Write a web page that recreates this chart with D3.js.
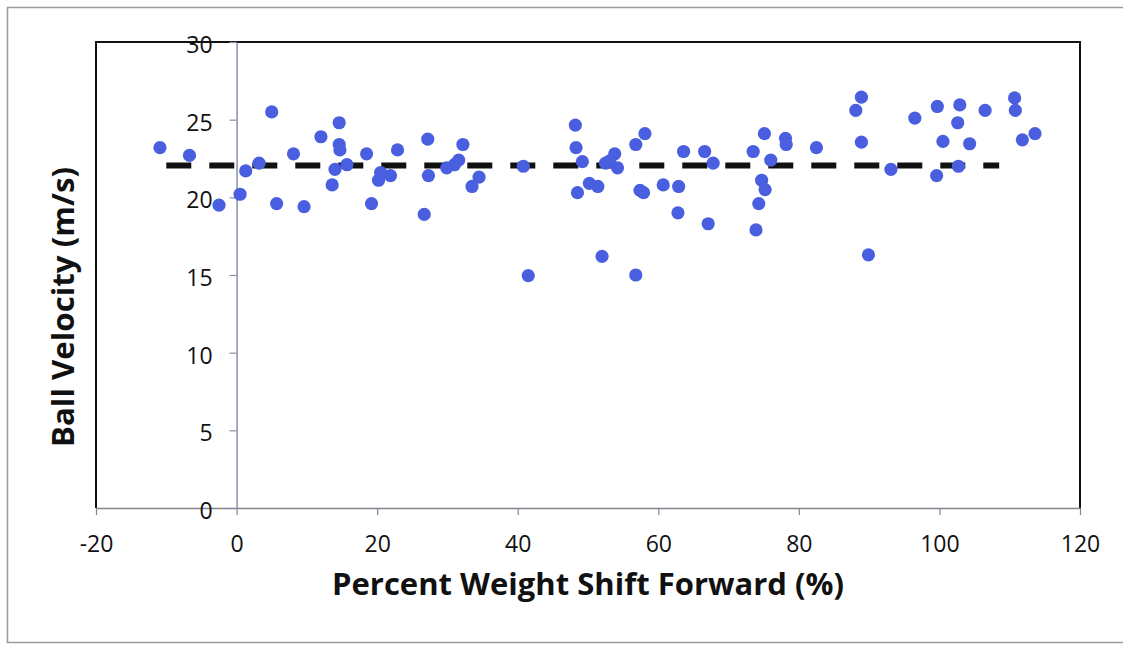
<!DOCTYPE html>
<html>
<head>
<meta charset="utf-8">
<script src="https://cdn.jsdelivr.net/npm/d3@7"></script>
<style>
  html, body { margin: 0; padding: 0; background: #fff; overflow: hidden; }
  svg { display: block; }
  .tick text { font-family: "Open Sans", sans-serif; fill: #111; }
  .title { font-family: "Open Sans", sans-serif; font-weight: 700; fill: #111; }
</style>
</head>
<body>
<div class="chart"></div>
<script>
'use strict';

// Percent weight shift forward (%) for each swing
const weightShift = [
    -10.9, -6.7, -2.5, 0.5, 1.3, 3.2, 5.0, 5.7, 8.1, 9.6,
    12.0, 13.6, 14.0, 14.6, 14.6, 14.7, 15.7, 18.5, 19.2, 20.5,
    20.2, 21.9, 22.9, 27.2, 27.3, 26.7, 29.9, 31.0, 31.6, 32.2,
    34.5, 33.5, 40.8, 41.5, 48.2, 48.3, 49.2, 48.5, 50.2, 51.4,
    52.0, 52.5, 53.1, 53.8, 54.2, 56.8, 58.1, 57.4, 57.9, 56.8,
    60.7, 62.9, 62.8, 63.6, 66.6, 67.8, 67.1, 73.5, 75.1, 76.0,
    78.1, 78.2, 74.7, 75.2, 74.3, 73.9, 82.5, 88.9, 88.1, 88.9,
    89.9, 93.1, 96.5, 99.7, 99.6, 100.5, 102.9, 102.6, 102.7, 104.3,
    106.5, 110.7, 110.8, 111.8, 113.6
];

// Ball velocity (m/s), same order as weightShift
const ballVelocity = [
    23.2, 22.7, 19.5, 20.2, 21.7, 22.2, 25.5, 19.6, 22.8, 19.4,
    23.9, 20.8, 21.8, 24.8, 23.4, 23.05, 22.1, 22.8, 19.6, 21.6,
    21.1, 21.4, 23.05, 23.75, 21.4, 18.9, 21.9, 22.1, 22.4, 23.4,
    21.3, 20.7, 22.0, 14.96, 24.65, 23.2, 22.3, 20.3, 20.9, 20.7,
    16.2, 22.2, 22.35, 22.8, 21.9, 23.4, 24.1, 20.45, 20.3, 15.0,
    20.8, 20.7, 19.0, 22.95, 22.95, 22.2, 18.3, 22.95, 24.1, 22.4,
    23.8, 23.4, 21.1, 20.5, 19.6, 17.9, 23.2, 26.45, 25.6, 23.55,
    16.3, 21.8, 25.1, 25.85, 21.4, 23.6, 25.95, 24.8, 22.0, 23.45,
    25.6, 26.4, 25.6, 23.7, 24.1
];

// mean velocity line (dashed) and the x span it covers
const meanVelocity = 22.05;
const meanSpan = [-10, 108.5];

const xTicks = [-20, 0, 20, 40, 60, 80, 100, 120];
const yTicks = [0, 5, 10, 15, 20, 25, 30];

const W = 1123, H = 645;
const plot = {left: 96, right: 1080, top: 42, bottom: 508};

const xScale = d3.scaleLinear()
    .domain([-20, 120])
    .range([plot.left, plot.right]);

const yScale = d3.scaleLinear()
    .domain([0, 30])
    .range([plot.bottom, plot.top]);

const points = weightShift.map((x, i) => ({x, y: ballVelocity[i]}));

// plain hyphen for negatives, like the original
const plainFormat = d => String(d);

function drawFrame(svg) {
    // faint outer border of the figure
    svg.append('path')
        .attr('d', `M${W + 5},7.5 H7.5 V642.5 H${W + 5}`)
        .attr('fill', 'none')
        .attr('stroke', '#9a9aa2')
        .attr('stroke-width', 1.5);

    // plot box: left, top, right in black
    svg.append('path')
        .attr('d', `M${plot.left},${plot.bottom} V${plot.top} H${plot.right} V${plot.bottom}`)
        .attr('fill', 'none')
        .attr('stroke', '#111')
        .attr('stroke-width', 2);
}

function drawXAxis(svg) {
    const axis = svg.append('g')
        .attr('class', 'axis axis--x')
        .attr('transform', `translate(0,${yScale(0)})`)
        .call(d3.axisBottom(xScale)
            .tickValues(xTicks)
            .tickFormat(plainFormat)
            .tickSize(7)
            .tickPadding(21)
            .tickSizeOuter(0));

    axis.select('.domain').attr('stroke', '#85858f').attr('stroke-width', 1.5);
    axis.selectAll('.tick line').attr('stroke', '#85858f').attr('stroke-width', 1.2);
    axis.selectAll('.tick text').attr('font-size', 23);
}

function drawYAxis(svg) {
    const axis = svg.append('g')
        .attr('class', 'axis axis--y')
        .attr('transform', `translate(${xScale(0)},0)`)
        .call(d3.axisLeft(yScale)
            .tickValues(yTicks)
            .tickFormat(plainFormat)
            .tickSize(7)
            .tickPadding(17)
            .tickSizeOuter(0));

    axis.select('.domain').attr('stroke', '#8a8fa6').attr('stroke-width', 1.5);
    axis.selectAll('.tick line').attr('stroke', '#8a8fa6').attr('stroke-width', 1.2);
    axis.selectAll('.tick text')
        .attr('font-size', 23)
        .attr('dy', '0.45em');
}

function drawMeanLine(svg) {
    svg.append('line')
        .attr('class', 'mean')
        .attr('x1', xScale(meanSpan[0]))
        .attr('x2', xScale(meanSpan[1]))
        .attr('y1', yScale(meanVelocity))
        .attr('y2', yScale(meanVelocity))
        .attr('stroke', '#111')
        .attr('stroke-width', 6)
        .attr('stroke-dasharray', '25,18');
}

function drawPoints(svg) {
    svg.append('g')
        .attr('class', 'points')
        .selectAll('circle')
        .data(points)
        .join('circle')
        .attr('cx', d => xScale(d.x))
        .attr('cy', d => yScale(d.y))
        .attr('r', 6.6)
        .attr('fill', '#4a5fe0');
}

function drawTitles(svg) {
    svg.append('text')
        .attr('class', 'title')
        .attr('x', (plot.left + plot.right) / 2)
        .attr('y', 595)
        .attr('text-anchor', 'middle')
        .attr('font-size', 31)
        .attr('textLength', 512)
        .attr('lengthAdjust', 'spacingAndGlyphs')
        .text('Percent Weight Shift Forward (%)');

    svg.append('text')
        .attr('class', 'title')
        .attr('transform', 'translate(74,307) rotate(-90)')
        .attr('text-anchor', 'middle')
        .attr('font-size', 31)
        .attr('textLength', 280)
        .attr('lengthAdjust', 'spacingAndGlyphs')
        .text('Ball Velocity (m/s)');
}

function run() {
    const svg = d3.select('.chart').append('svg')
        .attr('width', W)
        .attr('height', H);

    drawFrame(svg);
    drawXAxis(svg);
    drawYAxis(svg);
    drawMeanLine(svg);
    drawPoints(svg);
    drawTitles(svg);
}

run();
</script>
</body>
</html>
